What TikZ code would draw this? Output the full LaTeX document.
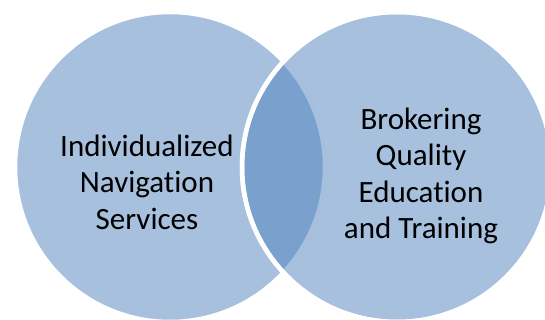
\documentclass[tikz,border=0pt]{standalone}
\usepackage{fontspec}
\setmainfont[Ligatures=NoCommon]{Carlito}
\usepackage{tikz}
\definecolor{vennblue}{HTML}{4F81BD}

\begin{document}
\begin{tikzpicture}[x=1pt, y=-1pt, line join=round,
	circ/.style={fill=vennblue, fill opacity=0.5, draw=white, line width=4.5pt},
	lbl/.style={align=center, text=black, font=\fontsize{31}{36.6}\selectfont}]
	% Khung hình
	\useasboundingbox (0,0) rectangle (545,320);
	\clip (0,0) rectangle (545,320);

	% Tâm hai hình tròn
	\coordinate (L) at (170,167);
	\coordinate (R) at (397,167);

	% Hai hình tròn chồng nhau
	\fill[circ] (L) circle (155);
	\fill[circ] (R) circle (155);
	\draw[white, line width=4.5pt] (R) circle (155);

	% Nhãn
	\node[lbl] (nav) at (147,182) {Individualized\\Navigation\\Services};
	\node[lbl] (broker) at (421,176) {Brokering\\Quality\\Education\\and Training};
\end{tikzpicture}
\end{document}
